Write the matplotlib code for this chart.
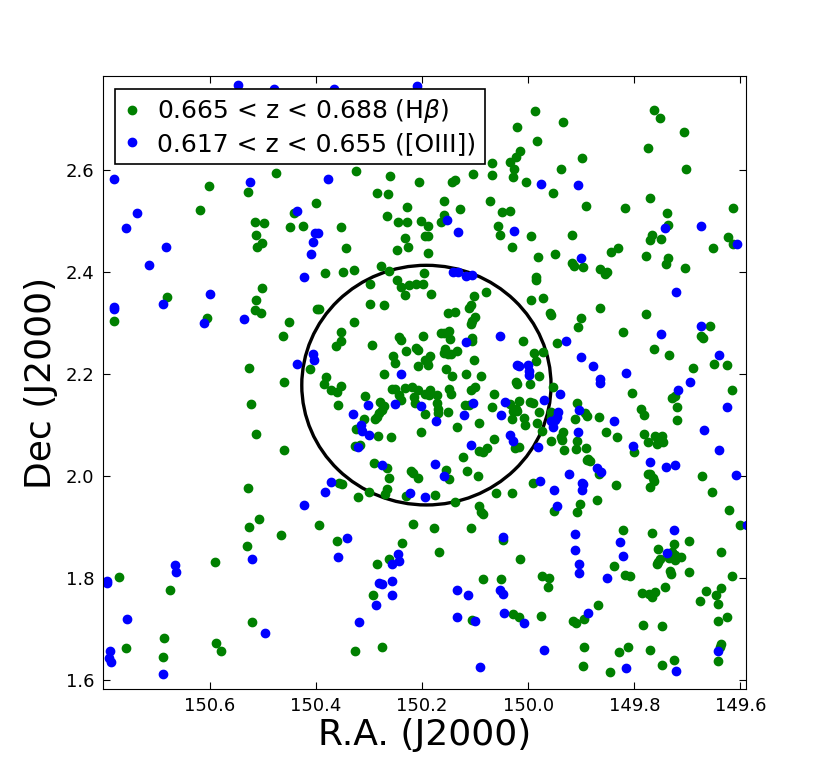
import numpy as np
import matplotlib
matplotlib.use('Agg')
from matplotlib import pyplot as plt
from matplotlib.patches import Circle
from matplotlib.ticker import FormatStrFormatter

# H-beta sample, 0.665 < z < 0.688
ra_hb = [150.602, 150.528, 150.619, 150.515, 150.498, 150.513, 150.511, 150.502, 150.475, 150.325,
         150.260, 150.206, 150.285, 150.264, 150.400, 150.442, 150.228, 150.449, 150.425, 150.353,
         150.266, 150.245, 150.228, 150.202, 150.343, 150.232, 150.194, 150.247, 150.226, 150.277,
         150.262, 150.383, 150.349, 150.328, 150.196, 149.987, 149.934, 150.021, 149.983, 150.015,
         150.023, 149.898, 150.034, 150.068, 150.026, 149.938, 150.104, 150.068, 150.028, 150.143,
         150.138, 150.004, 149.953, 150.158, 150.072, 149.891, 150.128, 150.049, 150.034, 150.158,
         150.164, 150.189, 150.057, 150.189, 150.053, 149.994, 149.917, 150.030, 150.189, 149.981,
         149.949, 149.917, 149.913, 149.896, 149.985, 149.762, 149.751, 149.706, 149.775, 149.702,
         149.817, 149.770, 149.613, 149.738, 149.736, 149.766, 149.770, 149.749, 149.623, 149.613,
         149.651, 149.830, 149.843, 149.777, 149.736, 149.740, 149.704, 149.864, 149.851, 149.855,
         150.781, 150.681, 150.606, 150.502, 150.513, 150.515, 150.504, 150.526, 150.523, 150.513,
         150.298, 150.247, 150.240, 150.225, 150.211, 150.198, 150.232, 150.298, 150.272, 150.398,
         150.394, 150.451, 150.328, 150.462, 150.353, 150.353, 150.362, 150.294, 150.243, 150.240,
         150.198, 150.230, 150.211, 150.208, 150.411, 150.255, 150.251, 150.208, 150.194, 150.272,
         150.460, 150.381, 150.385, 150.353, 150.372, 150.360, 150.257, 150.251, 150.232, 150.219,
         150.208, 150.243, 150.240, 150.215, 150.213, 150.194, 150.308, 150.358, 150.279, 150.272,
         150.275, 150.281, 150.285, 150.289, 150.194, 150.309, 150.325, 150.283, 150.258, 150.202,
         150.326, 150.317, 150.460, 150.291, 150.266, 150.262, 150.221, 150.217, 150.208, 150.357,
         150.351, 149.985, 150.183, 150.079, 150.102, 149.994, 149.972, 150.108, 150.111, 150.151,
         150.138, 149.958, 149.957, 150.100, 150.106, 150.108, 149.900, 149.906, 150.164, 150.149,
         150.158, 150.147, 150.106, 150.106, 150.009, 149.945, 150.157, 150.158, 150.151, 150.134,
         150.145, 150.185, 150.191, 150.189, 149.989, 149.972, 150.102, 149.985, 150.155, 150.143,
         150.117, 150.089, 149.979, 150.023, 150.021, 149.996, 149.953, 150.100, 150.108, 150.185,
         150.187, 150.172, 150.149, 150.145, 150.064, 150.119, 150.111, 150.172, 150.068, 150.017,
         149.996, 149.991, 150.034, 149.908, 150.170, 150.170, 150.151, 150.023, 150.028, 150.021,
         149.979, 149.957, 149.957, 150.030, 150.008, 150.006, 149.983, 149.892, 149.889, 149.911,
         150.092, 150.134, 149.974, 149.934, 150.064, 149.957, 149.938, 149.936, 149.908, 150.025,
         150.017, 149.932, 149.909, 149.891, 150.092, 150.085, 150.077, 150.123, 149.889, 150.155,
         150.115, 150.149, 150.094, 149.991, 149.864, 149.777, 149.821, 149.658, 149.675, 149.670,
         149.762, 149.734, 149.649, 149.625, 149.689, 149.615, 149.804, 149.728, 149.723, 149.719,
         149.787, 149.781, 149.866, 149.719, 149.853, 149.832, 149.781, 149.760, 149.747, 149.745,
         149.758, 149.775, 149.800, 149.887, 149.883, 149.866, 149.775, 149.770, 149.764, 149.762,
         149.673, 149.834, 150.528, 150.508, 150.526, 150.530, 150.591, 150.772, 150.675, 150.521,
         150.687, 150.758, 150.589, 150.579, 150.689, 150.321, 150.300, 150.266, 150.270, 150.230,
         150.394, 150.466, 150.217, 150.360, 150.238, 150.285, 150.262, 150.292, 150.326, 150.275,
         150.175, 150.138, 150.060, 150.030, 150.092, 150.089, 150.085, 149.951, 149.902, 149.908,
         150.177, 150.108, 150.047, 150.168, 150.015, 150.085, 150.051, 149.974, 149.960, 149.962,
         150.106, 150.028, 150.017, 149.975, 149.915, 149.909, 149.894, 149.894, 149.896, 149.770,
         149.653, 149.870, 149.621, 149.600, 149.821, 149.766, 149.726, 149.696, 149.755, 149.728,
         149.723, 149.711, 149.734, 149.723, 149.751, 149.755, 149.758, 149.636, 149.838, 149.732,
         149.730, 149.696, 149.817, 149.809, 149.615, 149.743, 149.785, 149.772, 149.766, 149.760,
         149.636, 149.664, 149.645, 149.677, 149.643, 149.868, 149.626, 149.643, 149.783, 149.747,
         149.811, 149.828, 149.770, 149.636, 149.638, 149.643, 149.726, 149.747, 149.845]
dec_hb = [2.569, 2.557, 2.522, 2.498, 2.496, 2.473, 2.449, 2.457, 2.594, 2.598,
          2.588, 2.576, 2.555, 2.553, 2.535, 2.516, 2.527, 2.488, 2.490, 2.488,
          2.510, 2.498, 2.498, 2.500, 2.447, 2.467, 2.471, 2.443, 2.449, 2.412,
          2.402, 2.398, 2.400, 2.404, 2.398, 2.716, 2.694, 2.684, 2.657, 2.637,
          2.625, 2.624, 2.616, 2.614, 2.602, 2.602, 2.592, 2.590, 2.586, 2.576,
          2.580, 2.576, 2.555, 2.539, 2.539, 2.529, 2.524, 2.518, 2.520, 2.512,
          2.498, 2.490, 2.490, 2.471, 2.473, 2.471, 2.473, 2.449, 2.437, 2.429,
          2.435, 2.418, 2.412, 2.410, 2.390, 2.718, 2.702, 2.675, 2.643, 2.602,
          2.525, 2.545, 2.525, 2.516, 2.492, 2.473, 2.463, 2.465, 2.469, 2.455,
          2.447, 2.447, 2.439, 2.431, 2.427, 2.416, 2.408, 2.406, 2.400, 2.396,
          2.304, 2.351, 2.310, 2.369, 2.345, 2.325, 2.320, 2.212, 2.141, 2.082,
          2.376, 2.384, 2.371, 2.375, 2.376, 2.376, 2.355, 2.337, 2.335, 2.327,
          2.327, 2.302, 2.302, 2.275, 2.282, 2.265, 2.255, 2.257, 2.273, 2.267,
          2.275, 2.245, 2.251, 2.247, 2.210, 2.235, 2.222, 2.216, 2.227, 2.200,
          2.184, 2.194, 2.180, 2.176, 2.169, 2.165, 2.171, 2.171, 2.173, 2.175,
          2.169, 2.159, 2.149, 2.155, 2.143, 2.161, 2.157, 2.139, 2.145, 2.137,
          2.129, 2.124, 2.116, 2.112, 2.122, 2.112, 2.092, 2.078, 2.076, 2.086,
          2.059, 2.061, 2.051, 2.025, 2.016, 1.996, 2.010, 2.006, 1.996, 1.986,
          1.984, 2.384, 2.357, 2.361, 2.353, 2.345, 2.349, 2.335, 2.329, 2.320,
          2.322, 2.320, 2.316, 2.312, 2.304, 2.298, 2.310, 2.292, 2.280, 2.284,
          2.280, 2.269, 2.271, 2.265, 2.265, 2.261, 2.249, 2.241, 2.239, 2.245,
          2.239, 2.235, 2.225, 2.218, 2.241, 2.243, 2.227, 2.225, 2.210, 2.196,
          2.200, 2.196, 2.196, 2.184, 2.180, 2.180, 2.175, 2.175, 2.169, 2.169,
          2.159, 2.159, 2.171, 2.161, 2.161, 2.139, 2.139, 2.143, 2.135, 2.147,
          2.145, 2.143, 2.141, 2.143, 2.131, 2.124, 2.126, 2.131, 2.127, 2.127,
          2.125, 2.125, 2.116, 2.112, 2.114, 2.100, 2.104, 2.124, 2.118, 2.112,
          2.104, 2.096, 2.088, 2.086, 2.073, 2.069, 2.076, 2.071, 2.069, 2.055,
          2.057, 2.051, 2.053, 2.055, 2.049, 2.047, 2.055, 2.037, 2.031, 2.012,
          2.010, 1.994, 2.000, 1.986, 2.329, 2.318, 2.282, 2.294, 2.275, 2.271,
          2.249, 2.237, 2.220, 2.218, 2.212, 2.169, 2.163, 2.153, 2.157, 2.135,
          2.131, 2.120, 2.116, 2.110, 2.086, 2.076, 2.082, 2.078, 2.078, 2.067,
          2.063, 2.067, 2.047, 2.033, 2.029, 2.004, 2.004, 2.004, 1.996, 1.990,
          2.000, 1.982, 1.976, 1.916, 1.900, 1.863, 1.831, 1.802, 1.776, 1.714,
          1.682, 1.663, 1.673, 1.657, 1.645, 1.959, 1.969, 1.975, 1.965, 1.961,
          1.904, 1.884, 1.906, 1.873, 1.869, 1.827, 1.837, 1.767, 1.657, 1.665,
          1.963, 1.949, 1.967, 1.967, 1.941, 1.929, 1.925, 1.931, 1.945, 1.929,
          1.898, 1.898, 1.875, 1.851, 1.837, 1.798, 1.798, 1.804, 1.800, 1.782,
          1.718, 1.729, 1.724, 1.725, 1.716, 1.712, 1.720, 1.665, 1.627, 1.978,
          1.969, 1.953, 1.933, 1.904, 1.894, 1.888, 1.867, 1.873, 1.857, 1.851,
          1.845, 1.841, 1.839, 1.835, 1.837, 1.831, 1.827, 1.851, 1.824, 1.814,
          1.808, 1.812, 1.806, 1.804, 1.804, 1.782, 1.771, 1.769, 1.763, 1.773,
          1.780, 1.775, 1.767, 1.755, 1.749, 1.747, 1.724, 1.716, 1.708, 1.706,
          1.665, 1.655, 1.659, 1.671, 1.665, 1.637, 1.639, 1.629, 1.616]

# [OIII] sample, 0.617 < z < 0.655
ra_o3 = [150.547, 150.479, 150.366, 150.209, 150.781, 150.525, 150.738, 150.758, 150.683, 150.715,
         150.377, 150.436, 150.402, 150.396, 150.406, 150.409, 150.423, 149.975, 149.906, 150.153,
         150.132, 150.026, 149.900, 150.141, 150.132, 150.117, 150.106, 149.742, 149.674, 149.606,
         150.781, 150.781, 150.689, 150.600, 150.611, 150.536, 150.406, 150.404, 150.436, 150.240,
         150.302, 150.251, 150.202, 150.330, 150.315, 150.313, 150.300, 150.321, 150.275, 150.372,
         150.053, 150.117, 149.928, 149.900, 150.021, 150.017, 150.000, 149.998, 149.998, 149.940,
         150.104, 150.043, 149.970, 149.904, 149.943, 149.945, 149.949, 149.957, 149.953, 150.121,
         150.051, 150.174, 149.906, 150.034, 150.028, 150.108, 149.981, 150.175, 150.158, 149.923,
         149.977, 149.898, 149.721, 149.749, 149.674, 149.640, 149.877, 149.864, 149.864, 149.815,
         149.694, 149.717, 149.626, 149.838, 149.668, 149.802, 149.640, 149.770, 149.870, 149.862,
         149.740, 149.723, 149.608, 150.521, 150.666, 150.664, 150.794, 150.794, 150.757, 150.496,
         150.789, 150.791, 150.787, 150.689, 150.383, 150.223, 150.194, 150.423, 150.342, 150.358,
         150.245, 150.257, 150.243, 150.281, 150.275, 150.257, 150.257, 150.287, 150.319, 149.896,
         149.898, 149.951, 149.945, 150.047, 149.911, 149.911, 149.904, 149.904, 150.134, 150.113,
         150.053, 150.047, 150.134, 150.100, 150.045, 150.008, 149.887, 149.970, 150.091, 149.587,
         149.725, 149.826, 149.738, 149.821, 149.851, 149.642, 149.815, 149.721]
dec_o3 = [2.767, 2.759, 2.759, 2.765, 2.582, 2.576, 2.516, 2.486, 2.449, 2.414,
          2.582, 2.520, 2.476, 2.476, 2.459, 2.435, 2.390, 2.573, 2.571, 2.502,
          2.478, 2.480, 2.427, 2.400, 2.400, 2.392, 2.394, 2.486, 2.490, 2.455,
          2.331, 2.327, 2.337, 2.357, 2.300, 2.308, 2.239, 2.227, 2.220, 2.200,
          2.139, 2.141, 2.137, 2.122, 2.100, 2.088, 2.080, 2.057, 2.022, 1.988,
          2.275, 2.263, 2.265, 2.233, 2.218, 2.216, 2.218, 2.206, 2.198, 2.161,
          2.143, 2.145, 2.149, 2.129, 2.126, 2.116, 2.110, 2.108, 2.096, 2.120,
          2.120, 2.108, 2.086, 2.080, 2.069, 2.061, 2.057, 2.024, 2.000, 2.004,
          1.990, 1.986, 2.361, 2.278, 2.294, 2.237, 2.216, 2.190, 2.182, 2.202,
          2.184, 2.169, 2.135, 2.108, 2.090, 2.059, 2.051, 2.027, 2.016, 2.008,
          2.018, 2.022, 2.002, 1.837, 1.825, 1.812, 1.794, 1.790, 1.720, 1.692,
          1.657, 1.643, 1.635, 1.612, 1.969, 1.967, 1.959, 1.943, 1.878, 1.841,
          1.847, 1.827, 1.833, 1.790, 1.788, 1.794, 1.767, 1.747, 1.714, 1.984,
          1.973, 1.973, 1.941, 1.880, 1.886, 1.855, 1.827, 1.810, 1.776, 1.767,
          1.776, 1.769, 1.724, 1.716, 1.731, 1.712, 1.731, 1.659, 1.625, 1.904,
          1.894, 1.871, 1.849, 1.843, 1.800, 1.657, 1.624, 1.618]

# aperture circle (deg)
circ_ra = 150.192
circ_dec = 2.178
circ_r = 0.235

xticks = [150.6, 150.4, 150.2, 150.0, 149.8, 149.6]
yticks = [1.6, 1.8, 2.0, 2.2, 2.4, 2.6]

fig = plt.figure(figsize=(8.3, 7.67), dpi=100)
ax = fig.add_axes([0.124, 0.1017, 0.775, 0.799])

ax.add_patch(Circle((circ_ra, circ_dec), circ_r, fill=False, ec='k', lw=2.4, zorder=1.5))
ax.plot(ra_hb, dec_hb, 'o', color='g', mec='g', ms=6, label=r'0.665 < z < 0.688 (H$\beta$)')
ax.plot(ra_o3, dec_o3, 'o', color='b', mec='b', ms=6, label='0.617 < z < 0.655 ([OIII])')

ax.set_xlim(150.802, 149.589)
ax.set_ylim(1.582, 2.784)
ax.set_xticks(xticks)
ax.set_yticks(yticks)
ax.xaxis.set_major_formatter(FormatStrFormatter('%.1f'))
ax.yaxis.set_major_formatter(FormatStrFormatter('%.1f'))
ax.tick_params(direction='in', top=True, right=True, labelsize=13, length=5, pad=6)

ax.set_xlabel('R.A. (J2000)', fontsize=26, labelpad=2)
ax.set_ylabel('Dec (J2000)', fontsize=26, labelpad=6)

leg = ax.legend(loc='upper left', numpoints=1, fontsize=18, fancybox=False,
                framealpha=1, edgecolor='k', borderaxespad=0.5, handlelength=0.6,
                handletextpad=0.7, borderpad=0.35, labelspacing=0.25)
leg.get_frame().set_linewidth(1.2)

fig.savefig('out.png', dpi=100)
